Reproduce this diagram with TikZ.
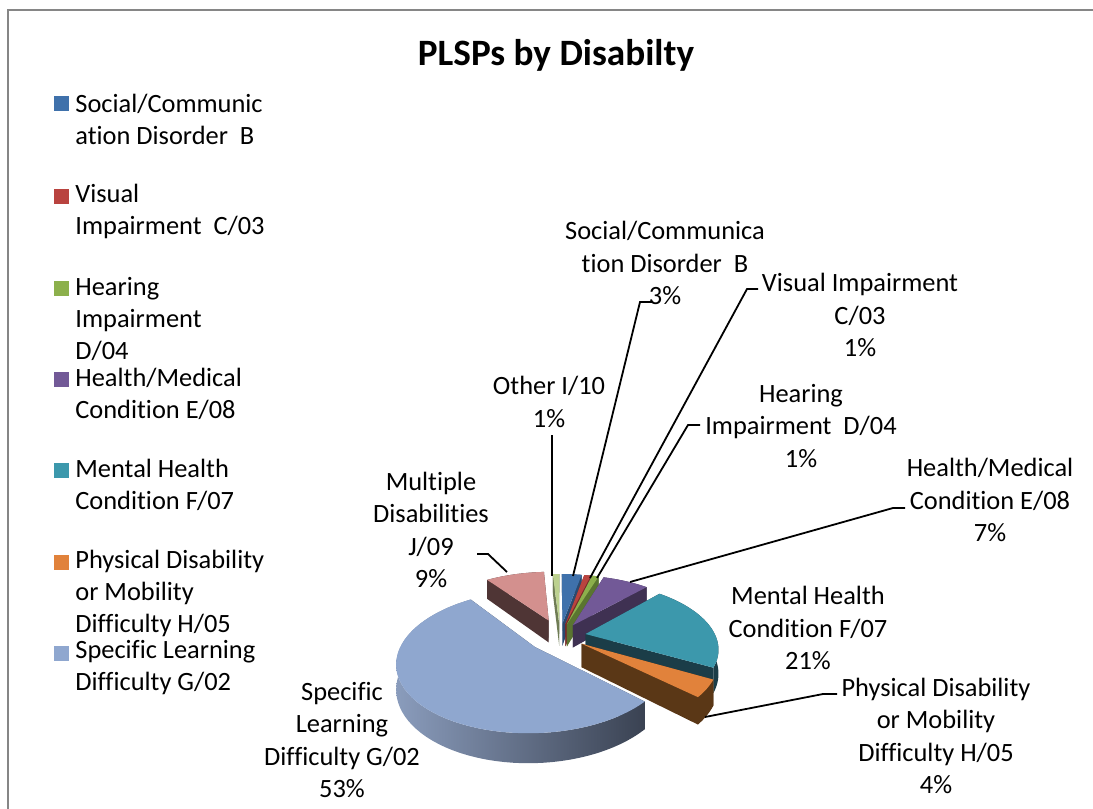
\documentclass[tikz,border=0pt]{standalone}
\usepackage{fontspec}
\setmainfont{Carlito}[Ligatures=NoCommon]
\definecolor{frameC}{HTML}{868686}
\definecolor{cBt}{HTML}{3F71AB}\definecolor{cBs}{HTML}{2A4A70}
\definecolor{cRt}{HTML}{B9433F}\definecolor{cRs}{HTML}{7A2A28}
\definecolor{cGt}{HTML}{8CB04C}\definecolor{cGs}{HTML}{5A7530}
\definecolor{cPt}{HTML}{725997}\definecolor{cPs}{HTML}{3F3152}
\definecolor{cTt}{HTML}{3C98AC}\definecolor{cTs}{HTML}{1B3D48}
\definecolor{cOt}{HTML}{E1823B}\definecolor{cOs}{HTML}{5A3716}
\definecolor{cLt}{HTML}{8FA7CF}\definecolor{cLa}{HTML}{8A9CBC}\definecolor{cLb}{HTML}{3A4252}
\definecolor{cKt}{HTML}{D3908E}\definecolor{cKs}{HTML}{4F3535}
\definecolor{cYt}{HTML}{BCD18F}\definecolor{cYs}{HTML}{6F7C55}
% pie projection: angle clockwise from back, radius, explode, mid angle, bottom flag
\def\CX{560}\def\CY{636}\def\AA{130}\def\BB{64}\def\KK{0.2}\def\TT{23}
\pgfmathdeclarefunction{pX}{4}{\pgfmathparse{\CX+\AA*(#2*sin(#1)+#3*sin(#4))/(1+\KK*(#2*cos(#1)+#3*cos(#4)))}}
\pgfmathdeclarefunction{pY}{5}{\pgfmathparse{\CY+(-\BB*(#2*cos(#1)+#3*cos(#4))+\TT*#5)/(1+\KK*(#2*cos(#1)+#3*cos(#4)))}}
% #1 start #2 end #3 explode #4 top style #5 face style #6 band style
\newcommand\pieslice[6]{%
  \pgfmathsetmacro\pmid{(#1+#2)/2}%
  \fill[#5] ({pX(#1,0,#3,\pmid)},{pY(#1,0,#3,\pmid,0)}) -- ({pX(#1,1,#3,\pmid)},{pY(#1,1,#3,\pmid,0)}) -- ({pX(#1,1,#3,\pmid)},{pY(#1,1,#3,\pmid,1)}) -- ({pX(#1,0,#3,\pmid)},{pY(#1,0,#3,\pmid,1)}) -- cycle;
  \fill[#5] ({pX(#2,0,#3,\pmid)},{pY(#2,0,#3,\pmid,0)}) -- ({pX(#2,1,#3,\pmid)},{pY(#2,1,#3,\pmid,0)}) -- ({pX(#2,1,#3,\pmid)},{pY(#2,1,#3,\pmid,1)}) -- ({pX(#2,0,#3,\pmid)},{pY(#2,0,#3,\pmid,1)}) -- cycle;
  \path[#6] plot[domain=#1:#2,samples=60] ({pX(\x,1,#3,\pmid)},{pY(\x,1,#3,\pmid,0)}) -- plot[domain=#2:#1,samples=60] ({pX(\x,1,#3,\pmid)},{pY(\x,1,#3,\pmid,1)}) -- cycle;
  \fill[#4] ({pX(#1,0,#3,\pmid)},{pY(#1,0,#3,\pmid,0)}) -- plot[domain=#1:#2,samples=60] ({pX(\x,1,#3,\pmid)},{pY(\x,1,#3,\pmid,0)}) -- cycle;
}
\tikzset{
  lab/.style={font=\fontsize{13.2}{16.2}\selectfont, align=center, inner sep=0pt},
  leg/.style={font=\fontsize{13.2}{16}\selectfont, align=left, inner sep=0pt, anchor=west},
  legbox/.style={minimum size=7.5pt, inner sep=0pt},
  leader/.style={line width=0.9pt, black},
}
\begin{document}
\begin{tikzpicture}[x=0.5pt,y=-0.5pt]
\useasboundingbox (0,0) rectangle (1093,809);
\draw[frameC, line width=1pt] (8,809) -- (8,10) -- (1093,10);
\node[font=\fontsize{18.6}{22}\selectfont\bfseries, inner sep=0pt] (title) at (556,55) {PLSPs by Disabilty};
% legend
\node[legbox, fill=cBt] (k1) at (61.5,103.5) {};
\node[leg] (l1) at (75,119) {Social/Communic\\ation Disorder~~B};
\node[legbox, fill=cRt] (k2) at (61.5,196) {};
\node[leg] (l2) at (75,211) {Visual\\Impairment~~C/03};
\node[legbox, fill=cGt] (k3) at (61.5,288) {};
\node[leg] (l3) at (75,319) {Hearing\\Impairment\\D/04};
\node[legbox, fill=cPt] (k4) at (61.5,379) {};
\node[leg] (l4) at (75,394) {Health/Medical\\Condition E/08};
\node[legbox, fill=cTt] (k5) at (61.5,470) {};
\node[leg] (l5) at (75,485) {Mental Health\\Condition F/07};
\node[legbox, fill=cOt] (k6) at (61.5,562) {};
\node[leg] (l6) at (75,593) {Physical Disability\\or Mobility\\Difficulty H/05};
\node[legbox, fill=cLt] (k7) at (61.5,653) {};
\node[leg] (l7) at (75,668) {Specific Learning\\Difficulty G/02};
% pie, back to front
\pieslice{324}{356.4}{0.27}{cKt}{cKs}{fill=cKs}
\pieslice{356.4}{360}{0.2}{cYt}{cYs}{fill=cYs}
\pieslice{0}{10.8}{0.2}{cBt}{cBs}{fill=cBs}
\pieslice{10.8}{14.4}{0.2}{cRt}{cRs}{fill=cRs}
\pieslice{14.4}{18}{0.2}{cGt}{cGs}{fill=cGs}
\pieslice{18}{43.2}{0.2}{cPt}{cPs}{fill=cPs}
\pieslice{43.2}{118.8}{0.2}{cTt}{cTs}{fill=cTs}
\pieslice{118.8}{133.2}{0.2}{cOt}{cOs}{fill=cOs}
\pieslice{133.2}{324}{0.25}{cLt}{cLb}{left color=cLa, right color=cLb}
% data labels
\node[lab] (dB) at (665,263) {Social/Communica\\tion Disorder~~B\\3\%};
\node[lab] (dR) at (860,315) {Visual Impairment\\C/03\\1\%};
\node[lab] (dG) at (801,426) {Hearing\\Impairment~~D/04\\1\%};
\node[lab] (dP) at (990,500) {Health/Medical\\Condition E/08\\7\%};
\node[lab] (dT) at (808,628) {Mental Health\\Condition F/07\\21\%};
\node[lab] (dO) at (936,736) {Physical Disability\\or Mobility\\Difficulty H/05\\4\%};
\node[lab] (dL) at (342,740) {Specific\\Learning\\Difficulty G/02\\53\%};
\node[lab] (dK) at (431,530) {Multiple\\Disabilities\\J/09\\9\%};
\node[lab] (dY) at (549,402) {Other I/10\\1\%};
% leader lines
\coordinate (aB0) at (652,302); \coordinate (aB1) at (640,302); \coordinate (aB2) at (573,576);
\coordinate (aR0) at (758,289); \coordinate (aR1) at (747,289); \coordinate (aR2) at (590,578);
\coordinate (aG0) at (700,425); \coordinate (aG1) at (688,425); \coordinate (aG2) at (597,578);
\coordinate (aP0) at (905,508); \coordinate (aP1) at (893,508); \coordinate (aP2) at (630,582);
\coordinate (aO0) at (837,694); \coordinate (aO1) at (823,694); \coordinate (aO2) at (705,717);
\coordinate (aK0) at (477,554); \coordinate (aK1) at (488,554); \coordinate (aK2) at (507,572);
\coordinate (aY1) at (552,435); \coordinate (aY2) at (552,576);
\draw[leader] (aB0) -- (aB1) -- (aB2);
\draw[leader] (aR0) -- (aR1) -- (aR2);
\draw[leader] (aG0) -- (aG1) -- (aG2);
\draw[leader] (aP0) -- (aP1) -- (aP2);
\draw[leader] (aO0) -- (aO1) -- (aO2);
\draw[leader] (aK0) -- (aK1) -- (aK2);
\draw[leader] (aY1) -- (aY2);
\end{tikzpicture}
\end{document}
